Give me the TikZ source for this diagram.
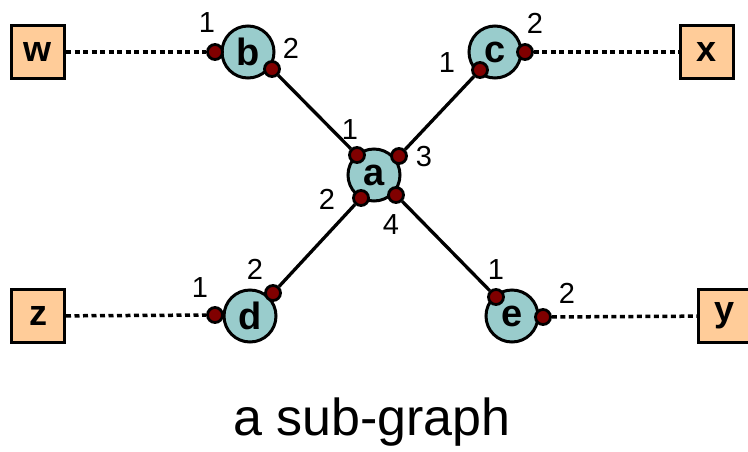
\documentclass[tikz,border=0pt]{standalone}
\usepackage{fontspec}
\setmainfont{Liberation Sans}
\definecolor{vertexfill}{HTML}{99CCCC}
\definecolor{termfill}{HTML}{FFCC99}
\definecolor{portfill}{HTML}{800000}
\begin{document}
\begin{tikzpicture}[
  x=1pt, y=-1pt,
  vertex/.style={circle, draw, line width=3pt, fill=vertexfill, minimum size=52pt, inner sep=0pt, font=\fontsize{38}{38}\selectfont\bfseries},
  terminal/.style={rectangle, draw, line width=3pt, fill=termfill, minimum size=53pt, inner sep=0pt, font=\fontsize{36}{36}\selectfont\bfseries},
  port/.style={circle, draw, line width=2.8pt, fill=portfill, minimum size=15pt, inner sep=0pt},
  portnum/.style={font=\fontsize{29}{29}\selectfont, inner sep=0pt},
  link/.style={line width=3.3pt},
  dots/.style={line width=3.5pt, dash pattern=on 5pt off 3.5pt}
]
\useasboundingbox (0,0) rectangle (748,451);
\node[terminal] (w) at (38,52) {w};
\node[terminal] (x) at (707,52) {x};
\node[terminal] (z) at (38,316) {z};
\node[terminal] (y) at (725,316) {y};
\node[vertex] (a) at (374,175) {a};
\node[vertex] (b) at (248,52) {b};
\node[vertex] (c) at (495,52) {c};
\node[vertex] (d) at (250,316) {d};
\node[vertex] (e) at (512,316) {e};
\node[port] (b1) at (215,52) {};
\node[port] (b2) at (272,69) {};
\node[port] (a1) at (357,155) {};
\node[port] (a2) at (361,198) {};
\node[port] (a3) at (399,156) {};
\node[port] (a4) at (396,195) {};
\node[port] (c1) at (480,70) {};
\node[port] (c2) at (525,52) {};
\node[port] (d1) at (215,315) {};
\node[port] (d2) at (273,293) {};
\node[port] (e1) at (496,297) {};
\node[port] (e2) at (543,317) {};
\node[portnum] (b1n) at (207,23) {1};
\node[portnum] (b2n) at (291,48) {2};
\node[portnum] (a1n) at (350,130) {1};
\node[portnum] (a2n) at (327,199) {2};
\node[portnum] (a3n) at (424,157) {3};
\node[portnum] (a4n) at (391,225) {4};
\node[portnum] (c1n) at (447,63) {1};
\node[portnum] (c2n) at (535,23) {2};
\node[portnum] (d1n) at (200,288) {1};
\node[portnum] (d2n) at (255,269) {2};
\node[portnum] (e1n) at (496,270) {1};
\node[portnum] (e2n) at (567,293) {2};
\draw[link] (b2) -- (a1);
\draw[link] (c1) -- (a3);
\draw[link] (d2) -- (a2);
\draw[link] (e1) -- (a4);
\draw[dots] (w) -- (b1);
\draw[dots] (c2) -- (x);
\draw[dots] (z) -- (d1);
\draw[dots] (e2) -- (y);
\node[font=\fontsize{52}{52}\selectfont] (caption) at (372,422) {a sub-graph};
\end{tikzpicture}
\end{document}
